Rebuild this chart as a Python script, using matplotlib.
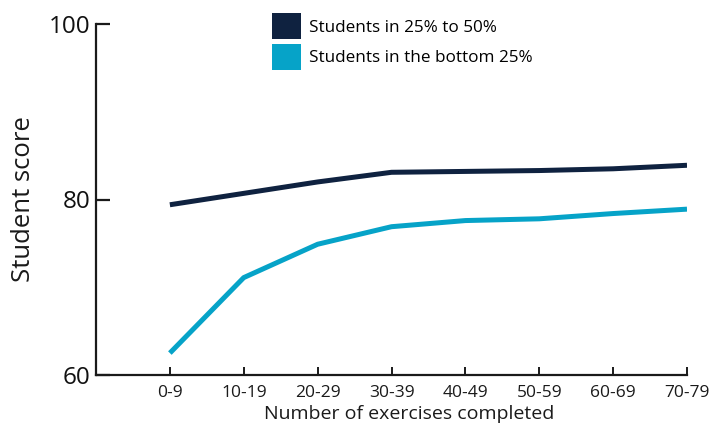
import matplotlib
matplotlib.use("Agg")
import matplotlib.pyplot as plt
from matplotlib.patches import Patch

# Data
categories = ["0-9", "10-19", "20-29", "30-39", "40-49", "50-59", "60-69", "70-79"]
middle_scores = [79.4, 80.7, 82.0, 83.1, 83.2, 83.3, 83.5, 83.9]
bottom_scores = [62.5, 71.1, 74.9, 76.9, 77.6, 77.8, 78.4, 78.9]
series_labels = ["Students in 25% to 50%", "Students in the bottom 25%"]
y_ticks = [60, 80, 100]

dark = "#0f2240"
light = "#06a3c8"

plt.rcParams["font.family"] = ["Open Sans", "DejaVu Sans"]

fig = plt.figure(figsize=(7.23, 4.37), dpi=100)
ax = fig.add_axes([96 / 723, 1 - 375 / 437, (687 - 96) / 723, (375 - 24) / 437])

x = list(range(len(categories)))
ax.plot(x, middle_scores, color=dark, lw=3.6, solid_capstyle="butt")
ax.plot(x, bottom_scores, color=light, lw=3.6, solid_capstyle="butt")

ax.set_xlim(-1, len(categories) - 1)
ax.set_ylim(60, 100)
ax.set_xticks(x)
ax.set_xticklabels(categories, fontsize=12.5, color="#1a1a1a")
ax.set_yticks(y_ticks)
ax.set_yticklabels([str(t) for t in y_ticks], fontsize=17.5, color="#111111")

ax.spines["top"].set_visible(False)
ax.spines["right"].set_visible(False)
for s in ("left", "bottom"):
    ax.spines[s].set_linewidth(1.6)
    ax.spines[s].set_color("#1a1a1a")

ax.tick_params(axis="x", direction="in", length=6, width=1.4, pad=7, color="#1a1a1a")
ax.tick_params(axis="y", direction="in", length=10, width=1.6, pad=4, color="#1a1a1a")

ax.set_xlabel("Number of exercises completed", fontsize=14, color="#1a1a1a", labelpad=3)
ax.xaxis.label.set_x((409 - 96) / (687 - 96))
ax.set_ylabel("Student score", fontsize=18.5, color="#1a1a1a", labelpad=9)

handles = [Patch(facecolor=dark, edgecolor="none"), Patch(facecolor=light, edgecolor="none")]
fig.legend(handles, series_labels, loc="upper left", bbox_to_anchor=(272 / 723, 1 - 13 / 437),
           bbox_transform=fig.transFigure, frameon=False, fontsize=12.3,
           handlelength=1.7, handleheight=2.0, handletextpad=0.45, labelspacing=0.25,
           borderpad=0, borderaxespad=0)

fig.savefig("out.png", dpi=100)
